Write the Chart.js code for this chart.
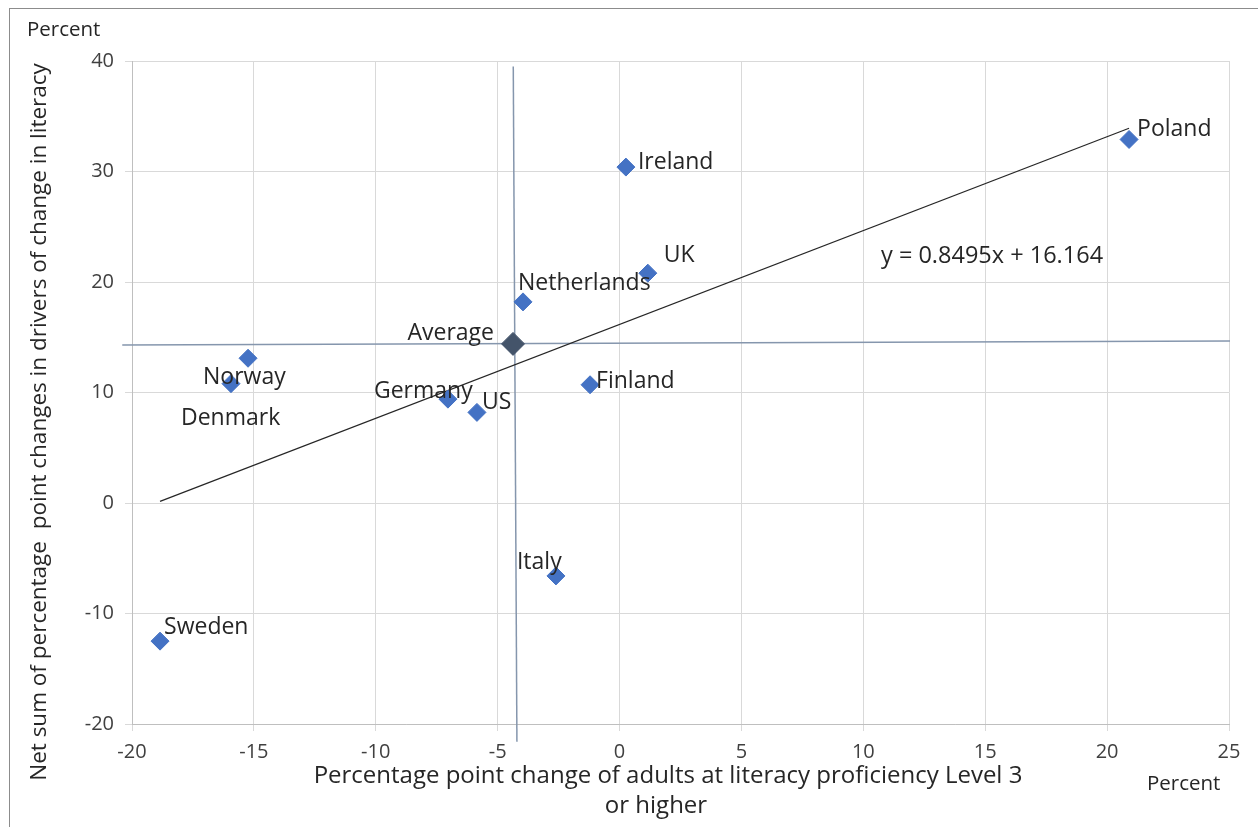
<!DOCTYPE html>
<html>
<head>
<meta charset="utf-8">
<script src="https://cdn.jsdelivr.net/npm/chart.js@4/dist/chart.umd.min.js"></script>
<style>
  html, body { margin: 0; padding: 0; background: #fff; overflow: hidden; }
  #frame { position: absolute; left: 9px; top: 8px; width: 1400px; height: 1000px;
           border-left: 1px solid #8c8c8c; border-top: 1px solid #8c8c8c; }
  #c { position: absolute; left: 0; top: 0; }
</style>
</head>
<body>
<div id="frame"></div>
<canvas id="c" width="1258" height="827"></canvas>
<script>
// Country values: change in share at Level 3+ (x) vs net sum of driver changes (y)
const countries   = ['Poland', 'Ireland', 'UK', 'Netherlands', 'Norway', 'Denmark', 'Finland', 'Germany', 'US', 'Italy', 'Sweden'];
const levelChange = [20.9, 0.26, 1.16, -3.96, -15.24, -15.94, -1.21, -7.04, -5.85, -2.61, -18.85];
const driverSum   = [32.9, 30.4, 20.8, 18.2, 13.1, 10.8, 10.7, 9.4, 8.2, -6.6, -12.5];

// Cross-country average and the linear fit shown on the chart
const averageX = -4.37;
const averageY = 14.4;
const trendSlope = 0.8495;
const trendIntercept = 16.164;
const trendText = 'y = 0.8495x + 16.164';

// Axis ranges / tick steps
const xRange = [-20, 25], xStep = 5;
const yRange = [-20, 40], yStep = 10;

// Reference cross-hair through the average (drawn as two guide lines)
const avgHLine = [{ x: -20.4, y: 14.3 }, { x: 25.04, y: 14.66 }];
const avgVLine = [{ x: -4.36, y: 39.5 }, { x: -4.21, y: -21.6 }];

// Label placement: pixel offset of each text's left edge / vertical centre from its marker
const labelOffsets = {
  Poland: [8, -10], Ireland: [12, -5], UK: [16, -18], Netherlands: [-5, -18],
  Norway: [-45, 19], Denmark: [-50, 35], Finland: [6, -3], Germany: [-74, -8],
  US: [5, -10], Italy: [-39, -13], Sweden: [4, -14]
};

const FONT = "'Open Sans', 'DejaVu Sans', sans-serif";

const xMin = Math.min(...levelChange), xMax = Math.max(...levelChange);
const trendPoints = [
  { x: xMin, y: trendSlope * xMin + trendIntercept },
  { x: xMax, y: trendSlope * xMax + trendIntercept }
];
const countryPoints = countries.map((c, i) => ({ x: levelChange[i], y: driverSum[i] }));

const textPlugin = {
  id: 'chartTexts',
  afterDraw(chart) {
    const ctx = chart.ctx;
    const xs = chart.scales.x, ys = chart.scales.y;
    ctx.save();
    ctx.fillStyle = '#262626';
    ctx.textBaseline = 'middle';

    // point labels
    ctx.font = '23px ' + FONT;
    ctx.textAlign = 'left';
    countries.forEach((c, i) => {
      const px = xs.getPixelForValue(levelChange[i]);
      const py = ys.getPixelForValue(driverSum[i]);
      const off = labelOffsets[c];
      ctx.fillText(c, px + off[0], py + off[1]);
    });
    const ax = xs.getPixelForValue(averageX), ay = ys.getPixelForValue(averageY);
    ctx.textAlign = 'right';
    ctx.fillText('Average', ax - 19, ay - 10);

    // trend equation
    ctx.textAlign = 'left';
    ctx.font = '23.5px ' + FONT;
    ctx.fillText(trendText, 881, 256);

    // unit captions
    ctx.font = '20.5px ' + FONT;
    ctx.fillText('Percent', 27, 30);
    ctx.fillText('Percent', 1147, 784);

    // x axis title (two lines)
    ctx.font = '24px ' + FONT;
    ctx.textAlign = 'center';
    ctx.fillText('Percentage point change of adults at literacy proficiency Level 3', 668, 776);
    ctx.fillText('or higher', 656, 806);

    // y axis title
    ctx.font = '22.5px ' + FONT;
    ctx.translate(40, 422);
    ctx.rotate(-Math.PI / 2);
    ctx.fillText('Net sum of percentage  point changes in drivers of change in literacy', 0, 0);
    ctx.restore();
  }
};

new Chart(document.getElementById('c'), {
  type: 'scatter',
  data: {
    datasets: [
      {
        label: 'Countries',
        data: countryPoints,
        pointStyle: 'rectRot',
        pointRadius: 9,
        pointHoverRadius: 9,
        backgroundColor: '#4472c4',
        borderColor: '#4472c4',
        borderWidth: 1,
        order: 1
      },
      {
        label: 'Average',
        data: [{ x: averageX, y: averageY }],
        pointStyle: 'rectRot',
        pointRadius: 11.5,
        pointHoverRadius: 11.5,
        backgroundColor: '#44546a',
        borderColor: '#44546a',
        borderWidth: 1,
        order: 0
      },
      {
        label: 'Trend',
        data: trendPoints,
        showLine: true,
        pointRadius: 0,
        borderColor: '#262626',
        borderWidth: 1.2,
        order: 3
      },
      {
        label: 'AverageH',
        data: avgHLine,
        showLine: true,
        pointRadius: 0,
        borderColor: '#8596ad',
        borderWidth: 1.5,
        clip: false,
        order: 4
      },
      {
        label: 'AverageV',
        data: avgVLine,
        showLine: true,
        pointRadius: 0,
        borderColor: '#8596ad',
        borderWidth: 1.5,
        clip: false,
        order: 4
      }
    ]
  },
  options: {
    responsive: false,
    animation: false,
    events: [],
    layout: { padding: { left: 0, top: 61, right: 29, bottom: 0 } },
    plugins: { legend: { display: false }, tooltip: { enabled: false } },
    scales: {
      x: {
        type: 'linear',
        min: xRange[0], max: xRange[1],
        ticks: { stepSize: xStep, color: '#404040', font: { family: FONT, size: 20 }, padding: 9, maxRotation: 0 },
        grid: { color: '#d9d9d9', lineWidth: 1, tickLength: 7, drawTicks: true },
        border: { color: '#bfbfbf', width: 1 },
        afterFit(scale) { scale.height = 103; }
      },
      y: {
        type: 'linear',
        min: yRange[0], max: yRange[1],
        ticks: { stepSize: yStep, color: '#404040', font: { family: FONT, size: 20 }, padding: 11 },
        grid: { color: '#d9d9d9', lineWidth: 1, tickLength: 7, drawTicks: true },
        border: { color: '#bfbfbf', width: 1 },
        afterFit(scale) { scale.width = 132; }
      }
    }
  },
  plugins: [textPlugin]
});
</script>
</body>
</html>
